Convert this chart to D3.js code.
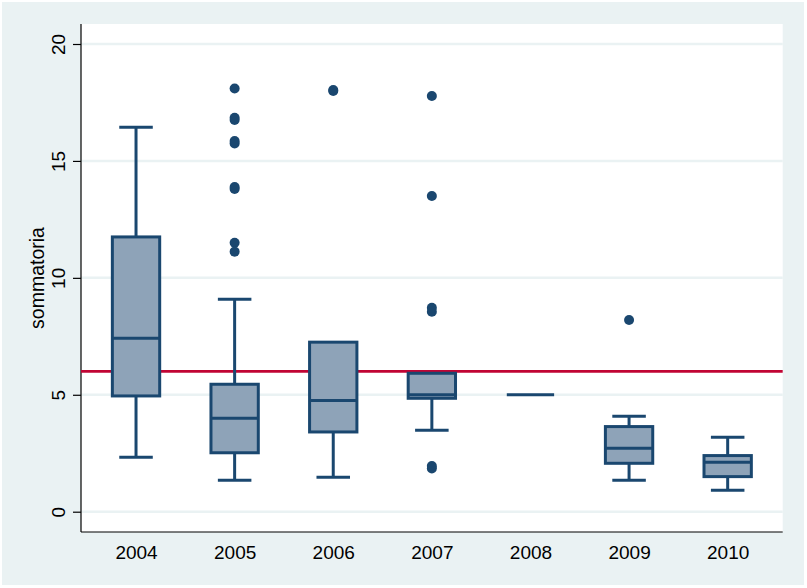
<!DOCTYPE html>
<html><head><meta charset="utf-8">
<script src="https://cdn.jsdelivr.net/npm/d3@7"></script>
<style>body{margin:0;background:#fff}svg{display:block}text{font-family:Arial,"Liberation Sans",sans-serif}</style>
</head><body>
<script>
const categories = ["2004","2005","2006","2007","2008","2009","2010"];
const whiskerLow  = [2.33, 1.34, 1.47, 3.48, 5.0, 1.34, 0.92];
const q1          = [4.95, 2.52, 3.41, 4.85, 5.0, 2.07, 1.50];
const median      = [7.42, 4.00, 4.76, 5.00, 5.0, 2.71, 2.11];
const q3          = [11.75, 5.45, 7.25, 5.92, 5.0, 3.64, 2.40];
const whiskerHigh = [16.44, 9.08, 7.25, 5.92, 5.0, 4.08, 3.18];
const outliers = [
  [],
  [18.1, 16.75, 16.85, 15.75, 15.85, 13.8, 13.88, 11.5, 11.12],
  [17.99, 18.03],
  [17.78, 13.5, 8.55, 8.72, 1.85, 1.95],
  [],
  [8.2],
  []
];
const yTicks = [0, 5, 10, 15, 20];
const refLine = 6;
const yTitle = "sommatoria";

const W = 807, H = 588;
const svg = d3.select("body").append("svg").attr("width", W).attr("height", H);
svg.append("rect").attr("x", 2).attr("y", 2).attr("width", 802).attr("height", 583).attr("fill", "#EAF2F3");

const L = 81, R = 782.7, T = 24, B = 532;
svg.append("rect").attr("x", L).attr("y", T).attr("width", R - L).attr("height", B - T).attr("fill", "#fff");

const y = d3.scaleLinear().domain([0, 20]).range([511.7, 44]);
const x = d3.scalePoint().domain(categories).range([L, R]).padding(0.558);
const step = x.step();
const boxW = step * 0.48, capW = step * 0.34;

// gridlines
svg.append("g").selectAll("line").data(yTicks).join("line")
  .attr("x1", L).attr("x2", R).attr("y1", d => y(d)).attr("y2", d => y(d))
  .attr("stroke", "#EAF2F3").attr("stroke-width", 2.5);

// y axis
const yAxis = d3.axisLeft(y).tickValues(yTicks).tickSize(8).tickPadding(0).tickFormat(d3.format("d"));
const gy = svg.append("g").attr("transform", `translate(${L},0)`).call(yAxis);
gy.select(".domain").attr("d", `M0,${T}V${B}`).attr("stroke", "#000").attr("stroke-width", 1.2);
gy.selectAll(".tick line").attr("stroke", "#000").attr("stroke-width", 1.2);
gy.selectAll(".tick text").attr("font-size", 19).attr("fill", "#000")
  .attr("text-anchor", "middle").attr("dy", null).attr("x", null)
  .attr("transform", "translate(-16,0) rotate(-90)");

// x axis
const xAxis = d3.axisBottom(x).tickSize(0).tickPadding(0);
const gx = svg.append("g").attr("transform", `translate(0,${B})`).call(xAxis);
gx.select(".domain").attr("d", `M${L},0H${R}`).attr("stroke", "#000").attr("stroke-width", 1.2);
gx.selectAll(".tick text").attr("font-size", 19).attr("fill", "#000").attr("dy", null).attr("y", 26.5);

// y title
svg.append("text").attr("transform", `translate(43.5,${(T + B) / 2}) rotate(-90)`)
  .attr("text-anchor", "middle").attr("font-size", 19.5).attr("fill", "#000").text(yTitle);

const navy = "#1A476F", fill = "#8EA3B8";
const g = svg.append("g");
categories.forEach((c, i) => {
  const cx = x(c);
  const gg = g.append("g");
  // whiskers
  gg.append("line").attr("x1", cx).attr("x2", cx).attr("y1", y(q3[i])).attr("y2", y(whiskerHigh[i]))
    .attr("stroke", navy).attr("stroke-width", 3);
  gg.append("line").attr("x1", cx).attr("x2", cx).attr("y1", y(q1[i])).attr("y2", y(whiskerLow[i]))
    .attr("stroke", navy).attr("stroke-width", 3);
  if (whiskerHigh[i] > q3[i]) gg.append("line").attr("x1", cx - capW / 2).attr("x2", cx + capW / 2)
    .attr("y1", y(whiskerHigh[i])).attr("y2", y(whiskerHigh[i])).attr("stroke", navy).attr("stroke-width", 3);
  if (whiskerLow[i] < q1[i]) gg.append("line").attr("x1", cx - capW / 2).attr("x2", cx + capW / 2)
    .attr("y1", y(whiskerLow[i])).attr("y2", y(whiskerLow[i])).attr("stroke", navy).attr("stroke-width", 3);
  // box
  gg.append("rect").attr("x", cx - boxW / 2).attr("width", boxW)
    .attr("y", y(q3[i])).attr("height", y(q1[i]) - y(q3[i]))
    .attr("fill", fill).attr("stroke", navy).attr("stroke-width", 3);
  gg.append("line").attr("x1", cx - boxW / 2).attr("x2", cx + boxW / 2)
    .attr("y1", y(median[i])).attr("y2", y(median[i])).attr("stroke", navy).attr("stroke-width", 3);
});

// reference line
svg.append("line").attr("x1", L).attr("x2", R).attr("y1", y(refLine)).attr("y2", y(refLine))
  .attr("stroke", "#C10534").attr("stroke-width", 2.8);

// outliers
categories.forEach((c, i) => {
  g.append("g").selectAll("circle").data(outliers[i]).join("circle")
    .attr("cx", x(c)).attr("cy", d => y(d)).attr("r", 5).attr("fill", navy);
});
// bring boxes above red line
g.raise();
</script>
</body></html>
